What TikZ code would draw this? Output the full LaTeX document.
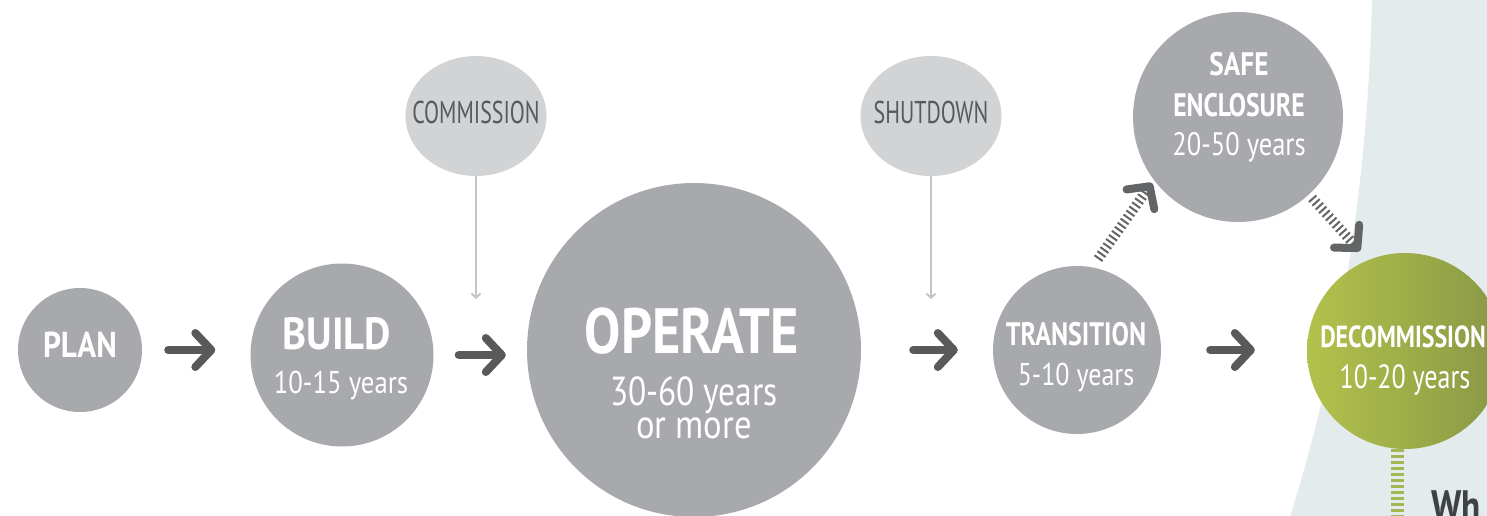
\documentclass[tikz,border=0pt]{standalone}
\usepackage{graphicx}
\usepackage{fontspec}
\setmainfont[FakeStretch=0.8]{PT Sans}
\usetikzlibrary{arrows.meta,calc,shapes.geometric}
\definecolor{circgrey}{HTML}{A7A9AC}
\definecolor{lightgrey}{HTML}{D1D3D4}
\definecolor{arrowgrey}{HTML}{58595B}
\definecolor{stripegrey}{HTML}{636466}
\definecolor{linegrey}{HTML}{C2C4C6}
\definecolor{bgblue}{HTML}{E3EBED}
\definecolor{greenL}{HTML}{B3C24B}
\definecolor{greenR}{HTML}{889846}
\definecolor{greendash}{HTML}{A5B752}
\definecolor{darktext}{HTML}{3F4244}
\newcommand{\sx}[2]{\scalebox{#1}[1]{#2}}
\begin{document}
\begin{tikzpicture}[x=1pt,y=-1pt,
  phase/.style={circle, fill=circgrey, inner sep=0pt, minimum size=#1},
  event/.style={ellipse, fill=lightgrey, inner sep=0pt, minimum width=141pt, minimum height=120pt},
  btxt/.style={text=white, anchor=base, inner sep=0pt, font=\bfseries\fontsize{#1}{#1}\selectfont},
  rtxt/.style={text=white, anchor=base, inner sep=0pt, font=\fontsize{#1}{#1}\selectfont},
  etxt/.style={text=arrowgrey, anchor=base, inner sep=0pt, font=\fontsize{31.5}{31.5}\selectfont},
  arr/.style={draw=arrowgrey, line width=8pt, line cap=round,
    -{Straight Barb[length=16pt,width=34pt,round]}},
  drop/.style={draw=linegrey, line width=2pt,
    -{Straight Barb[length=4pt,width=9pt]}},
  stripe/.style={draw=stripegrey, line width=10pt, dash pattern=on 2pt off 3pt,
    -{Straight Barb[length=16pt,width=34pt,line width=8pt,round]}},
  gstripe/.style={draw=greendash, line width=13pt, dash pattern=on 3pt off 3pt},
]
\useasboundingbox (0,0) rectangle (1487,515);
\clip (0,0) rectangle (1487,515);

% background panel
\fill[bgblue] (1372,-2) .. controls (1368,170) and (1345,340) .. (1290,517)
  -- (1490,517) -- (1490,-2) -- cycle;

% phase circles
\node[phase=124pt] (plan) at (80,350) {};
\node[phase=183pt] (build) at (342,355) {};
\node[phase=334pt] (operate) at (694,350) {};
\node[phase=168pt] (trans) at (1077,350) {};
\node[phase=210pt] (safe) at (1238,117) {};
\node[circle, inner sep=0pt, minimum size=196pt, left color=greenL, right color=greenR] (decom) at (1405,351) {};

% events
\node[event] (comm) at (476,116) {};
\node[event] (shut) at (931,116) {};

% texts
\node[btxt=36] (planT) at (80,357) {\sx{1.086}{PLAN}};
\node[btxt=45] (buildT) at (337,349) {\sx{1.13}{BUILD}};
\node[rtxt=31.5] (buildY) at (341,393) {\sx{1.06}{10-15 years}};
\node[btxt=64] (operateT) at (692,353) {\sx{1.06}{OPERATE}};
\node[rtxt=40.5] (operateY) at (694,405) {\sx{1.03}{30-60 years}};
\node[rtxt=40.5] (operateM) at (694,438) {\sx{1.07}{or more}};
\node[btxt=32.5] (transT) at (1076,345) {TRANSITION};
\node[rtxt=31.5] (transY) at (1076,385) {\sx{1.03}{5-10 years}};
\node[btxt=32.5] (safeA) at (1239,75) {\sx{1.05}{SAFE}};
\node[btxt=32.5] (safeB) at (1239,116) {\sx{0.99}{ENCLOSURE}};
\node[rtxt=32.5] (safeY) at (1239,155) {\sx{1.02}{20-50 years}};
\node[btxt=30.5] (decomT) at (1403,347) {\sx{0.98}{DECOMMISSION}};
\node[rtxt=33.5] (decomY) at (1405,388) {\sx{0.97}{10-20 years}};
\node[etxt] (commT) at (476,123) {\sx{0.87}{COMMISSION}};
\node[etxt] (shutT) at (931,123) {\sx{0.87}{SHUTDOWN}};
\node[text=darktext, anchor=base west, inner sep=0pt, font=\bfseries\fontsize{44}{44}\selectfont] (whT) at (1431,521) {Wh};

% main arrows
\draw[arr, shorten <=26pt, shorten >=35pt] (plan.east) -- (plan.east -| build.west);
\draw[arr, shorten <=25pt, shorten >=21pt] (build.east) -- (build.east -| operate.west);
\draw[arr, shorten <=52pt, shorten >=35pt] (operate.east) -- (operate.east -| trans.west);
\draw[arr, shorten <=49pt, shorten >=52pt] (trans.east) -- (trans.east -| decom.west);

% drop lines from events
\coordinate (commEnd) at (476,299);
\coordinate (shutEnd) at (931,299);
\draw[drop] (comm.south) -- (commEnd);
\draw[drop] (shut.south) -- (shutEnd);

% dashed arrows
\coordinate (d1s) at ($(trans.center)+(21,-91)$);
\coordinate (d1t) at ($(safe.center)+(-86,66)$);
\coordinate (d2s) at ($(safe.center)+(74,81)$);
\coordinate (d2t) at ($(decom.center)+(-45,-100)$);
\draw[stripe] (d1s) -- (d1t);
\draw[stripe] (d2s) -- (d2t);

% green stripe below decommission
\coordinate (gEnd) at (1397,520);
\draw[gstripe] (decom.south -| gEnd) -- (gEnd);
\end{tikzpicture}
\end{document}
